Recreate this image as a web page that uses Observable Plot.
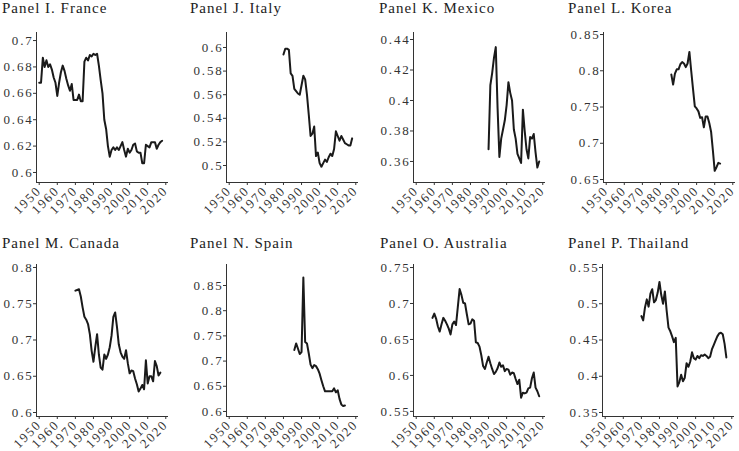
<!DOCTYPE html>
<html><head><meta charset="utf-8">
<script src="https://cdn.jsdelivr.net/npm/d3@7"></script>
<script src="https://cdn.jsdelivr.net/npm/@observablehq/plot@0.6"></script>
<style>
body{margin:0;background:#fff;width:739px;height:451px;overflow:hidden;position:relative;font-family:"Liberation Serif",serif;}
.title{position:absolute;font-size:15px;line-height:17px;color:#222;white-space:nowrap;letter-spacing:1px;}
svg text{font-family:"Liberation Serif",serif;}
</style></head><body>
<script>
// x axis
const xTicks = [1950, 1960, 1970, 1980, 1990, 2000, 2010, 2020];
const xDomain = [1948.5, 2021.5];

// France
const franceStart = 1950;
const franceValues = [0.668,0.668,0.687,0.680,0.685,0.680,0.682,0.678,0.672,0.668,0.658,0.668,0.676,0.681,0.677,0.671,0.666,0.662,0.667,0.655,0.655,0.655,0.659,0.654,0.654,0.684,0.687,0.685,0.689,0.688,0.690,0.689,0.690,0.681,0.670,0.660,0.640,0.633,0.620,0.612,0.617,0.619,0.617,0.619,0.617,0.620,0.623,0.617,0.612,0.618,0.615,0.617,0.621,0.622,0.616,0.615,0.615,0.607,0.607,0.621,0.620,0.619,0.623,0.623,0.623,0.618,0.621,0.623,0.624];
const franceTicks = [0.6, 0.62, 0.64, 0.66, 0.68, 0.7];

// Italy
const italyStart = 1980;
const italyValues = [0.594,0.599,0.599,0.598,0.578,0.576,0.565,0.563,0.561,0.560,0.568,0.576,0.573,0.560,0.543,0.525,0.527,0.533,0.508,0.511,0.502,0.499,0.502,0.505,0.503,0.507,0.510,0.508,0.514,0.529,0.525,0.521,0.525,0.522,0.519,0.518,0.517,0.517,0.523];
const italyTicks = [0.5, 0.52, 0.54, 0.56, 0.58, 0.6];

// Mexico
const mexicoStart = 1990;
const mexicoValues = [0.368,0.410,0.418,0.428,0.435,0.395,0.363,0.375,0.381,0.387,0.397,0.412,0.405,0.400,0.381,0.375,0.365,0.362,0.359,0.394,0.380,0.368,0.362,0.376,0.375,0.378,0.366,0.356,0.360];
const mexicoTicks = [0.36, 0.38, 0.4, 0.42, 0.44];

// Korea
const koreaStart = 1986;
const koreaValues = [0.795,0.781,0.796,0.802,0.802,0.809,0.812,0.810,0.805,0.810,0.826,0.800,0.775,0.751,0.748,0.744,0.735,0.736,0.722,0.737,0.737,0.728,0.716,0.690,0.662,0.667,0.673,0.672];
const koreaTicks = [0.65, 0.7, 0.75, 0.8, 0.85];

// Canada
const canadaStart = 1970;
const canadaValues = [0.768,0.769,0.770,0.760,0.745,0.732,0.728,0.722,0.708,0.685,0.670,0.690,0.708,0.680,0.662,0.659,0.680,0.674,0.680,0.690,0.706,0.732,0.738,0.718,0.694,0.683,0.677,0.674,0.686,0.668,0.654,0.658,0.657,0.647,0.639,0.629,0.633,0.638,0.632,0.672,0.640,0.650,0.650,0.643,0.671,0.664,0.651,0.655];
const canadaTicks = [0.6, 0.65, 0.7, 0.75, 0.8];

// Spain
const spainStart = 1986;
const spainValues = [0.722,0.735,0.725,0.714,0.718,0.866,0.738,0.735,0.715,0.693,0.686,0.692,0.690,0.684,0.675,0.662,0.650,0.640,0.640,0.640,0.640,0.640,0.646,0.638,0.642,0.625,0.614,0.611,0.612];
const spainTicks = [0.6, 0.65, 0.7, 0.75, 0.8, 0.85];

// Australia
const australiaStart = 1959;
const australiaValues = [0.680,0.686,0.679,0.668,0.661,0.671,0.680,0.676,0.671,0.665,0.657,0.671,0.675,0.670,0.695,0.720,0.712,0.701,0.700,0.685,0.671,0.672,0.678,0.676,0.646,0.645,0.640,0.628,0.613,0.609,0.618,0.626,0.617,0.609,0.602,0.605,0.610,0.618,0.612,0.614,0.606,0.609,0.608,0.601,0.604,0.603,0.595,0.588,0.594,0.569,0.576,0.575,0.576,0.582,0.583,0.596,0.604,0.583,0.578,0.571];
const australiaTicks = [0.55, 0.6, 0.65, 0.7, 0.75];

// Thailand
const thailandStart = 1970;
const thailandValues = [0.483,0.477,0.495,0.506,0.496,0.514,0.520,0.502,0.505,0.515,0.530,0.512,0.500,0.517,0.490,0.467,0.462,0.455,0.447,0.453,0.386,0.392,0.402,0.393,0.398,0.418,0.413,0.420,0.433,0.425,0.423,0.428,0.425,0.429,0.428,0.430,0.428,0.425,0.427,0.437,0.443,0.449,0.455,0.459,0.460,0.458,0.445,0.426];
const thailandTicks = [0.35, 0.4, 0.45, 0.5, 0.55];

const panels = [
  {title:"Panel I. France", start:franceStart, values:franceValues, ticks:franceTicks, yDomain:[0.5924,0.7061], row:0, axisX:36, titleX:2},
  {title:"Panel J. Italy", start:italyStart, values:italyValues, ticks:italyTicks, yDomain:[0.4856,0.6127], row:0, axisX:226, titleX:190},
  {title:"Panel K. Mexico", start:mexicoStart, values:mexicoValues, ticks:mexicoTicks, yDomain:[0.3462,0.4446], row:0, axisX:413, titleX:379},
  {title:"Panel L. Korea", start:koreaStart, values:koreaValues, ticks:koreaTicks, yDomain:[0.6459,0.8528], row:0, axisX:603, titleX:568},
  {title:"Panel M. Canada", start:canadaStart, values:canadaValues, ticks:canadaTicks, yDomain:[0.5945,0.8041], row:1, axisX:36, titleX:2},
  {title:"Panel N. Spain", start:spainStart, values:spainValues, ticks:spainTicks, yDomain:[0.590,0.8917], row:1, axisX:226, titleX:190},
  {title:"Panel O. Australia", start:australiaStart, values:australiaValues, ticks:australiaTicks, yDomain:[0.5429,0.7542], row:1, axisX:413, titleX:380},
  {title:"Panel P. Thailand", start:thailandStart, values:thailandValues, ticks:thailandTicks, yDomain:[0.3445,0.5541], row:1, axisX:602, titleX:568}
];

const rows = [
  {svgTop:0, marginTop:32, frameH:150, marginBottom:40, titleTop:0},
  {svgTop:225, marginTop:39, frameH:152, marginBottom:35, titleTop:235}
];

const ML = 36, MR = 6, FW = 132;

for (const p of panels) {
  const r = rows[p.row];
  const data = p.values.map((v, i) => ({year: p.start + i, value: v}));
  const svg = Plot.plot({
    width: ML + FW + MR,
    height: r.marginTop + r.frameH + r.marginBottom,
    marginLeft: ML, marginRight: MR, marginTop: r.marginTop, marginBottom: r.marginBottom,
    style: {background: "transparent", fontFamily: "Liberation Serif, serif", fontSize: "13px", color: "#333", letterSpacing: "1.8px", overflow: "visible"},
    x: {domain: xDomain, ticks: xTicks, tickFormat: d => String(d), tickRotate: -45, tickSize: 3, tickPadding: 3, label: null},
    y: {domain: p.yDomain, ticks: p.ticks, tickFormat: d => String(d), tickSize: 3, tickPadding: 0, label: null},
    marks: [
      Plot.ruleX([xDomain[0]], {stroke: "#333", strokeWidth: 1}),
      Plot.ruleY([p.yDomain[0]], {stroke: "#333", strokeWidth: 1}),
      Plot.line(data, {x: "year", y: "value", stroke: "#1a1a1a", strokeWidth: 2})
    ]
  });
  svg.style.position = "absolute";
  svg.style.left = (p.axisX - ML) + "px";
  svg.style.top = r.svgTop + "px";
  document.body.appendChild(svg);
  const t = document.createElement("div");
  t.className = "title";
  t.textContent = p.title;
  t.style.left = p.titleX + "px";
  t.style.top = r.titleTop + "px";
  document.body.appendChild(t);
}
</script>
</body></html>
